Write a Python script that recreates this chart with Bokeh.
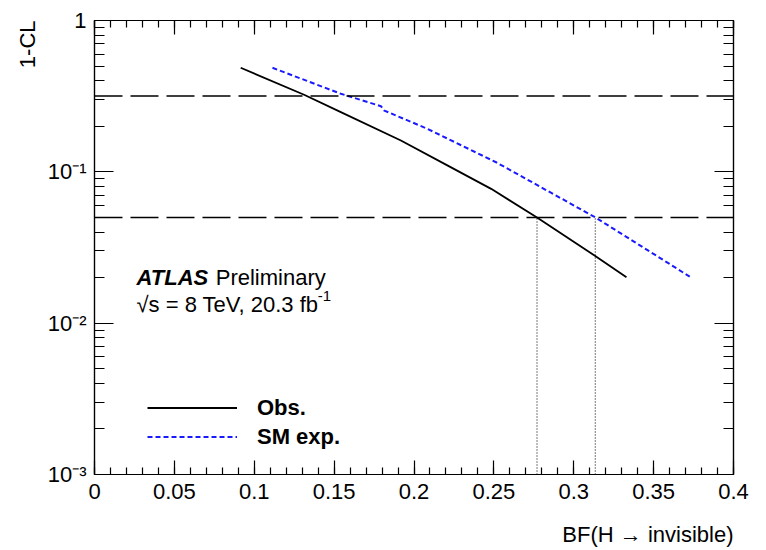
from bokeh.plotting import figure
from bokeh.models import (FixedTicker, LinearAxis, LogAxis, Range1d, Span, Label, Title,
                          Legend, LegendItem)
from bokeh.embed import file_html
from bokeh.resources import INLINE

# ---- data ----
obs_bf = [0.0915, 0.1312, 0.1542, 0.1918, 0.2232, 0.2483, 0.277, 0.313, 0.333]
obs_cl = [0.487, 0.323, 0.248, 0.161, 0.107, 0.0772, 0.050, 0.028, 0.0201]
exp_bf = [0.1114, 0.1542, 0.1793, 0.1814, 0.2086, 0.2514, 0.3135, 0.3726]
exp_cl = [0.487, 0.328, 0.2715, 0.254, 0.192, 0.1157, 0.050, 0.0203]
cl_levels = [0.3173, 0.05]
limit_bf = [0.277, 0.3135]
limit_cl = 0.05

x_ticks = [0, 0.05, 0.1, 0.15, 0.2, 0.25, 0.3, 0.35, 0.4]
x_labels = ["0", "0.05", "0.1", "0.15", "0.2", "0.25", "0.3", "0.35", "0.4"]
y_ticks = [0.001, 0.01, 0.1, 1]
y_labels = ["10⁻³", "10⁻²", "10⁻¹", "1"]

FONT = "Liberation Sans"
FS = "22px"

p = figure(width=766, height=550, x_range=Range1d(0, 0.4), y_range=Range1d(1e-3, 1),
           y_axis_type="log", output_backend="svg", toolbar_location=None,
           min_border_left=94, min_border_right=33, min_border_top=20, min_border_bottom=76)
p.xgrid.visible = False
p.ygrid.visible = False
p.outline_line_color = "black"
p.outline_line_width = 1.2
p.background_fill_color = "white"
p.border_fill_color = "white"

xticker = FixedTicker(ticks=x_ticks, minor_ticks=[i * 0.01 for i in range(41)])
yticker = FixedTicker(ticks=y_ticks,
                      minor_ticks=[m * 10.0 ** e for e in (-3, -2, -1) for m in range(2, 10)])


def style(ax, major_in, minor_in, labels=True):
    ax.major_tick_in = major_in
    ax.major_tick_out = 0
    ax.minor_tick_in = minor_in
    ax.minor_tick_out = 0
    ax.axis_line_color = "black"
    ax.axis_line_width = 1.2
    ax.major_tick_line_width = 1.2
    ax.minor_tick_line_width = 1.2
    ax.major_label_text_font = FONT
    ax.major_label_text_font_size = FS
    ax.major_label_text_color = "black"
    if not labels:
        ax.major_label_text_font_size = "0px"
        ax.major_label_text_color = None


xa = p.xaxis[0]
xa.ticker = xticker
xa.major_label_overrides = {t: s for t, s in zip(x_ticks, x_labels)}
xa.major_label_standoff = 9
style(xa, 14, 7)

ya = p.yaxis[0]
ya.ticker = yticker
ya.major_label_overrides = {t: s for t, s in zip(y_ticks, y_labels)}
ya.major_label_standoff = 8
style(ya, 19, 10)

top = LinearAxis(ticker=xticker)
style(top, 14, 7, labels=False)
p.add_layout(top, "above")
right = LogAxis(ticker=yticker)
style(right, 19, 10, labels=False)
p.add_layout(right, "right")

# invisible spacer between the x tick labels and the x title
mid = x_ticks[len(x_ticks) // 2]
spacer = LinearAxis(ticker=FixedTicker(ticks=[mid], minor_ticks=[]), axis_line_color=None,
                    major_tick_line_color=None, minor_tick_line_color=None,
                    major_tick_in=0, major_tick_out=18, minor_tick_in=0, minor_tick_out=0,
                    major_label_standoff=0, major_label_overrides={mid: ""})
p.add_layout(spacer, "below")

# reference CL levels
for lv in cl_levels:
    p.add_layout(Span(location=lv, dimension="width", line_color="black",
                      line_dash="28 8", line_width=1.5))

# limit markers
p.segment(x0=limit_bf, y0=[1e-3] * len(limit_bf), x1=limit_bf, y1=[limit_cl] * len(limit_bf),
          line_color="#222222", line_dash="1 2", line_width=1.2)

r_obs = p.line(obs_bf, obs_cl, line_color="black", line_width=1.8)
r_exp = p.line(exp_bf, exp_cl, line_color="#1a1aff", line_width=2, line_dash="5 3")

legend = Legend(items=[LegendItem(label="Obs.", renderers=[r_obs]),
                       LegendItem(label="SM exp.", renderers=[r_exp])],
                location=(53, 23), orientation="vertical", glyph_width=90, glyph_height=29,
                label_height=29, label_standoff=20, padding=0, spacing=0, margin=0,
                background_fill_alpha=0, border_line_color=None,
                label_text_font=FONT, label_text_font_size=FS, label_text_font_style="bold",
                label_text_color="black")
p.add_layout(legend)

txt = dict(text_font=FONT, text_font_size=FS, text_color="black", text_baseline="alphabetic")
p.add_layout(Label(x=0.0263, y=0.02, text="ATLAS", text_font_style="bold italic", **txt))
p.add_layout(Label(x=0.0759, y=0.02, text="Preliminary", **txt))
p.add_layout(Label(x=0.0263, y=0.01327, text="√s = 8 TeV, 20.3 fb", **txt))
p.add_layout(Label(x=0.1398, y=0.01327, y_offset=9, text="-1", text_font=FONT,
                   text_font_size="15px", text_color="black", text_baseline="alphabetic"))

p.add_layout(Title(text="BF(H → invisible)", align="right", text_font=FONT,
                   text_font_size=FS, text_font_style="normal", text_color="black",
                   standoff=0), "below")
p.add_layout(Title(text="1-CL", align="right", text_font=FONT,
                   text_font_size=FS, text_font_style="normal", text_color="black",
                   standoff=9), "left")

open("out.html", "w").write(file_html(p, INLINE))
